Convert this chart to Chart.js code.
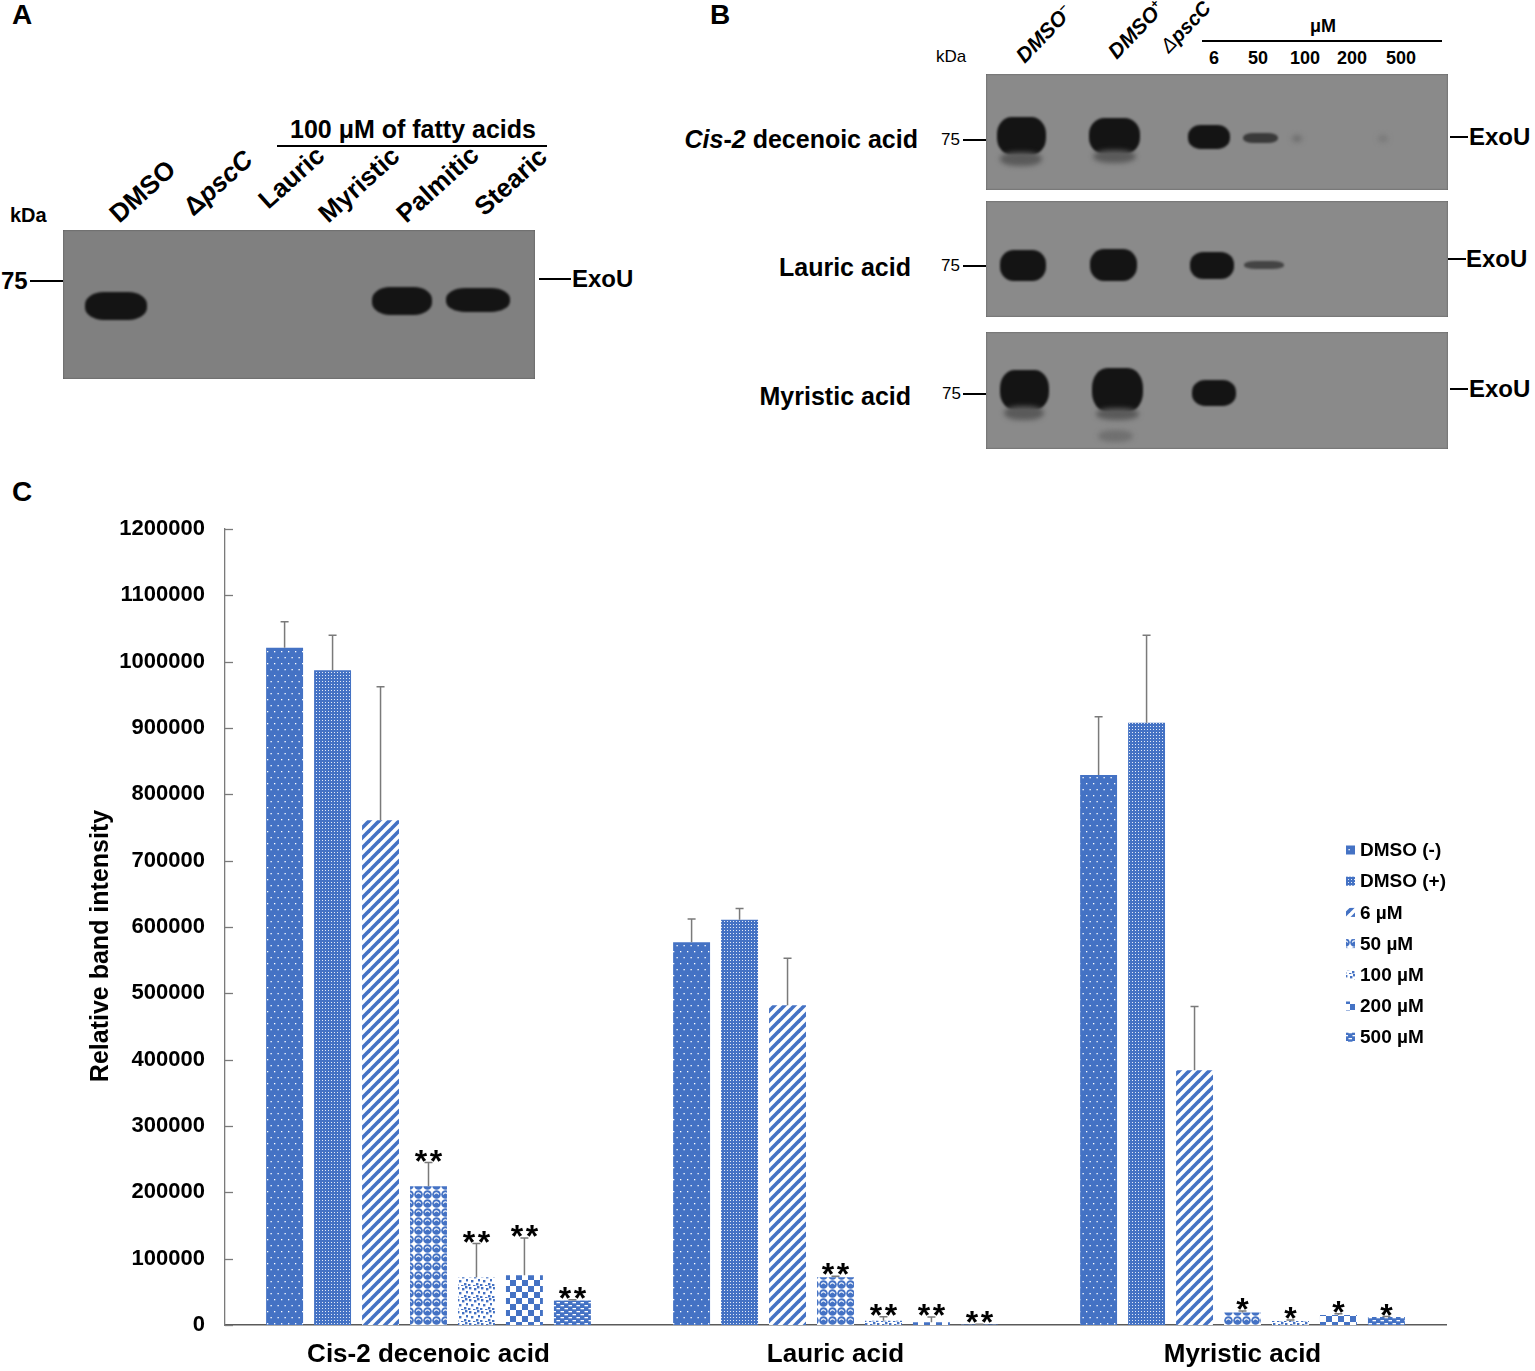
<!DOCTYPE html>
<html><head><meta charset="utf-8">
<script src="https://cdn.jsdelivr.net/npm/chart.js@4.4.0/dist/chart.umd.min.js"></script>
<style>
html,body{margin:0;padding:0;background:#fff;}
body{width:1535px;height:1371px;position:relative;overflow:hidden;font-family:Arial,"Liberation Sans",sans-serif;color:#000;}
.t{position:absolute;white-space:nowrap;line-height:1;}
.b{font-weight:bold;}
.i{font-style:italic;}
.blot{position:absolute;background:#808080;box-shadow:inset 0 0 2px rgba(0,0,0,.45);}
.blotB{background:#8a8a8a;}
.band{position:absolute;background:#141414;border-radius:30%/45%;filter:blur(1.3px);}
.smear{position:absolute;background:#5a5a5a;border-radius:40%/50%;filter:blur(2.5px);}
.rA{transform-origin:0 100%;transform:rotate(-42deg);}
.rB{transform-origin:0 100%;transform:rotate(-46deg);}
.ln{position:absolute;background:#000;}
#cwrap{position:absolute;left:0;top:470px;width:1535px;height:901px;}
</style></head>
<body>
<!-- Panel A -->
<div class="t b" style="left:12px;top:1px;font-size:28px">A</div>
<div class="t b" style="left:263px;top:117px;width:300px;text-align:center;font-size:25px">100 μM of fatty acids</div>
<div class="ln" style="left:277px;top:145px;width:270px;height:2px"></div>
<div class="t b rA" style="left:122px;top:201px;font-size:26px">DMSO</div>
<div class="t b rA" style="left:196px;top:194px;font-size:26px">Δ<span class="i">pscC</span></div>
<div class="t b rA" style="left:271px;top:187px;font-size:26px">Lauric</div>
<div class="t b rA" style="left:331px;top:201px;font-size:26px">Myristic</div>
<div class="t b rA" style="left:409px;top:201px;font-size:26px">Palmitic</div>
<div class="t b rA" style="left:487px;top:194px;font-size:26px">Stearic</div>
<div class="t b" style="left:10px;top:205px;font-size:20px">kDa</div>
<div class="t b" style="left:1px;top:269px;font-size:24px">75</div>
<div class="ln" style="left:30px;top:280px;width:33px;height:2px"></div>
<div class="blot" style="left:63px;top:230px;width:472px;height:149px">
  <div class="band" style="left:22px;top:62px;width:62px;height:28px"></div>
  <div class="band" style="left:309px;top:57px;width:60px;height:28px"></div>
  <div class="band" style="left:383px;top:58px;width:64px;height:24px"></div>
</div>
<div class="ln" style="left:539px;top:278px;width:32px;height:2px"></div>
<div class="t b" style="left:572px;top:267px;font-size:24px">ExoU</div>

<!-- Panel B -->
<div class="t b" style="left:710px;top:1px;font-size:28px">B</div>
<div class="t" style="left:936px;top:48px;font-size:17px">kDa</div>
<div class="t b i rB" style="left:1027px;top:45px;font-size:21px">DMSO<sup style="font-size:12px">−</sup></div>
<div class="t b i rB" style="left:1119px;top:41px;font-size:21px">DMSO<sup style="font-size:12px">+</sup></div>
<div class="t i rB" style="left:1171px;top:36px;font-size:20px">Δ<b>pscC</b></div>
<div class="t b" style="left:1310px;top:17px;font-size:18px">μM</div>
<div class="ln" style="left:1202px;top:40px;width:240px;height:2px"></div>
<div class="t b" style="left:1194px;top:49px;width:40px;text-align:center;font-size:18px">6</div>
<div class="t b" style="left:1238px;top:49px;width:40px;text-align:center;font-size:18px">50</div>
<div class="t b" style="left:1285px;top:49px;width:40px;text-align:center;font-size:18px">100</div>
<div class="t b" style="left:1332px;top:49px;width:40px;text-align:center;font-size:18px">200</div>
<div class="t b" style="left:1381px;top:49px;width:40px;text-align:center;font-size:18px">500</div>

<div class="t b" style="right:617px;top:127px;font-size:25px"><span class="i">Cis</span>-<span class="i">2</span> decenoic acid</div>
<div class="t b" style="right:624px;top:255px;font-size:25px">Lauric acid</div>
<div class="t b" style="right:624px;top:384px;font-size:25px">Myristic acid</div>

<div class="t" style="left:941px;top:131px;font-size:17px">75</div>
<div class="ln" style="left:963px;top:139px;width:23px;height:2px"></div>
<div class="t" style="left:941px;top:257px;font-size:17px">75</div>
<div class="ln" style="left:963px;top:265px;width:23px;height:2px"></div>
<div class="t" style="left:942px;top:385px;font-size:17px">75</div>
<div class="ln" style="left:963px;top:393px;width:23px;height:2px"></div>

<div class="blot blotB" style="left:986px;top:74px;width:462px;height:116px">
  <div class="band" style="left:11px;top:43px;width:49px;height:38px"></div>
  <div class="smear" style="left:14px;top:78px;width:42px;height:14px"></div>
  <div class="band" style="left:103px;top:44px;width:51px;height:36px"></div>
  <div class="smear" style="left:107px;top:76px;width:43px;height:13px"></div>
  <div class="band" style="left:202px;top:51px;width:42px;height:24px"></div>
  <div class="band" style="left:257px;top:59px;width:35px;height:10px;background:#3a3a3a"></div>
  <div class="smear" style="left:306px;top:61px;width:10px;height:7px;background:#707070"></div>
  <div class="smear" style="left:392px;top:61px;width:10px;height:7px;background:#7a7a7a"></div>
</div>
<div class="blot blotB" style="left:986px;top:201px;width:462px;height:116px">
  <div class="band" style="left:14px;top:49px;width:46px;height:31px"></div>
  <div class="band" style="left:104px;top:48px;width:47px;height:32px"></div>
  <div class="band" style="left:204px;top:51px;width:44px;height:27px"></div>
  <div class="band" style="left:258px;top:60px;width:40px;height:8px;background:#444"></div>
</div>
<div class="blot blotB" style="left:986px;top:332px;width:462px;height:117px">
  <div class="band" style="left:14px;top:38px;width:49px;height:40px"></div>
  <div class="smear" style="left:18px;top:74px;width:40px;height:14px"></div>
  <div class="band" style="left:106px;top:36px;width:51px;height:44px"></div>
  <div class="smear" style="left:110px;top:76px;width:43px;height:12px"></div>
  <div class="smear" style="left:112px;top:98px;width:35px;height:12px;background:#707070"></div>
  <div class="band" style="left:206px;top:48px;width:44px;height:26px"></div>
</div>

<div class="ln" style="left:1450px;top:136px;width:18px;height:2px"></div>
<div class="t b" style="left:1469px;top:125px;font-size:24px">ExoU</div>
<div class="ln" style="left:1448px;top:258px;width:18px;height:2px"></div>
<div class="t b" style="left:1466px;top:247px;font-size:24px">ExoU</div>
<div class="ln" style="left:1450px;top:388px;width:18px;height:2px"></div>
<div class="t b" style="left:1469px;top:377px;font-size:24px">ExoU</div>

<!-- Panel C -->
<div class="t b" style="left:12px;top:478px;font-size:28px">C</div>
<div id="cwrap"><canvas id="c"></canvas></div>

<script>
// ---- Data (panel C) ----
const categories = ['Cis-2 decenoic acid', 'Lauric acid', 'Myristic acid'];
const seriesLabels = ['DMSO (-)', 'DMSO (+)', '6 µM', '50 µM', '100 µM', '200 µM', '500 µM'];
const yTicks = [0, 100000, 200000, 300000, 400000, 500000, 600000, 700000, 800000, 900000, 1000000, 1100000, 1200000];

const dmsoNeg = [1021000, 577000, 829000];
const dmsoPos = [987000, 611000, 908000];
const um6     = [761000, 482000, 384000];
const um50    = [209000, 72000, 19000];
const um100   = [72000, 6500, 6000];
const um200   = [75000, 4000, 15000];
const um500   = [37000, 800, 12000];

const dmsoNegErr = [39000, 35000, 88000];
const dmsoPosErr = [53000, 17000, 132000];
const um6Err     = [201000, 71000, 96000];
const um50Err    = [36000, 1500, 2000];
const um100Err   = [51000, 6000, 1500];
const um200Err   = [56000, 8000, 2000];
const um500Err   = [1000, 500, 1000];

const sigNeg = ['', '', ''];
const sigPos = ['', '', ''];
const sig6   = ['', '', ''];
const sig50  = ['**', '**', '*'];
const sig100 = ['**', '**', '*'];
const sig200 = ['**', '**', '*'];
const sig500 = ['**', '**', '*'];

const seriesValues = [dmsoNeg, dmsoPos, um6, um50, um100, um200, um500];
const seriesErrors = [dmsoNegErr, dmsoPosErr, um6Err, um50Err, um100Err, um200Err, um500Err];
const seriesSig = [sigNeg, sigPos, sig6, sig50, sig100, sig200, sig500];

// ---- Patterns ----
const BLUE = '#4472C4';
function pat(kind) {
  const c = document.createElement('canvas');
  const x = c.getContext('2d');
  if (kind === 'dots') {
    c.width = 7; c.height = 12;
    x.fillStyle = BLUE; x.fillRect(0, 0, 7, 12);
    x.fillStyle = '#fff';
    x.fillRect(1, 1, 1.3, 1.3); x.fillRect(4.5, 7, 1.3, 1.3);
  } else if (kind === 'grid') {
    c.width = 3; c.height = 3;
    x.fillStyle = BLUE; x.fillRect(0, 0, 3, 3);
    x.fillStyle = 'rgba(255,255,255,0.85)'; x.fillRect(1, 1, 1, 1);
  } else if (kind === 'stripes') {
    c.width = 10; c.height = 10;
    x.fillStyle = '#fff'; x.fillRect(0, 0, 10, 10);
    x.strokeStyle = BLUE; x.lineWidth = 3.6;
    [[-5, 5, 5, -5], [0, 10, 10, 0], [5, 15, 15, 5]].forEach(p => {
      x.beginPath(); x.moveTo(p[0], p[1]); x.lineTo(p[2], p[3]); x.stroke();
    });
  } else if (kind === 'spheres') {
    c.width = 9; c.height = 9;
    x.fillStyle = '#fff'; x.fillRect(0, 0, 9, 9);
    x.fillStyle = BLUE; x.beginPath(); x.arc(4.5, 4.5, 4.3, 0, Math.PI * 2); x.fill();
    x.strokeStyle = '#fff'; x.lineWidth = 1.1;
    x.beginPath(); x.arc(4.5, 5.2, 2.3, Math.PI * 1.1, Math.PI * 1.9); x.stroke();
  } else if (kind === 'confetti') {
    c.width = 12; c.height = 12;
    x.fillStyle = '#fff'; x.fillRect(0, 0, 12, 12);
    x.fillStyle = BLUE;
    [[1, 1], [6, 2], [10, 5], [3, 6], [8, 9], [0, 10], [5, 11], [9, 0]].forEach(p => x.fillRect(p[0], p[1], 2.4, 2.4));
  } else if (kind === 'checker') {
    c.width = 12; c.height = 12;
    x.fillStyle = '#fff'; x.fillRect(0, 0, 12, 12);
    x.fillStyle = BLUE; x.fillRect(0, 0, 6, 6); x.fillRect(6, 6, 6, 6);
  } else if (kind === 'wave') {
    c.width = 8; c.height = 6;
    x.fillStyle = BLUE; x.fillRect(0, 0, 8, 6);
    x.fillStyle = '#fff';
    x.fillRect(0.5, 1, 3.5, 1.3); x.fillRect(4.5, 4, 3.5, 1.3);
  }
  return document.getElementById('c').getContext('2d').createPattern(c, 'repeat');
}
const patternKinds = ['dots', 'grid', 'stripes', 'spheres', 'confetti', 'checker', 'wave'];

// ---- Plugins ----
const FONT = 'Arial, "Liberation Sans", sans-serif';
const errPlugin = {
  id: 'errs',
  afterDatasetsDraw(chart) {
    const ctx = chart.ctx, ys = chart.scales.y;
    ctx.save();
    chart.data.datasets.forEach((ds, i) => {
      const meta = chart.getDatasetMeta(i);
      meta.data.forEach((bar, j) => {
        const v = ds.data[j], e = seriesErrors[i][j];
        const yb = ys.getPixelForValue(v), yt = ys.getPixelForValue(v + e);
        ctx.strokeStyle = '#7a7a7a'; ctx.lineWidth = 1.5;
        ctx.beginPath();
        ctx.moveTo(bar.x, yb); ctx.lineTo(bar.x, yt);
        ctx.moveTo(bar.x - 4, yt); ctx.lineTo(bar.x + 4, yt);
        ctx.stroke();
        const s = seriesSig[i][j];
        if (s) {
          ctx.fillStyle = '#000';
          ctx.font = 'bold 32px ' + FONT;
          ctx.textAlign = 'center'; ctx.textBaseline = 'alphabetic';
          const cy = yt - 9, base = cy + 0.57 * 32;
          if (s.length === 2) {
            ctx.fillText('*', bar.x - 7.5, base); ctx.fillText('*', bar.x + 7.5, base);
          } else {
            ctx.fillText('*', bar.x, base);
          }
        }
      });
    });
    ctx.restore();
  },
  afterDraw(chart) {
    const ctx = chart.ctx, ys = chart.scales.y, area = chart.chartArea;
    ctx.save();
    // inner tick marks on y axis
    ctx.strokeStyle = '#7a7a7a'; ctx.lineWidth = 1.3;
    yTicks.forEach(t => {
      const y = Math.round(ys.getPixelForValue(t)) + 0.5;
      ctx.beginPath(); ctx.moveTo(area.left, y); ctx.lineTo(area.left + 8, y); ctx.stroke();
    });
    // y title
    ctx.fillStyle = '#000';
    ctx.font = 'bold 25px ' + FONT;
    ctx.translate(101, 476); ctx.rotate(-Math.PI / 2);
    ctx.textAlign = 'center'; ctx.textBaseline = 'middle';
    ctx.fillText('Relative band intensity', 0, 0);
    ctx.restore();
    // legend
    ctx.save();
    ctx.font = 'bold 19px ' + FONT;
    ctx.textAlign = 'left'; ctx.textBaseline = 'middle';
    chart.data.datasets.forEach((ds, i) => {
      const y = 380 + i * 31.2;
      ctx.fillStyle = ds.backgroundColor;
      ctx.fillRect(1346, y - 4.5, 9, 9);
      ctx.fillStyle = '#000';
      ctx.fillText(ds.label, 1360, y + 1);
    });
    ctx.restore();
  }
};

const datasets = seriesLabels.map((lab, i) => ({
  label: lab,
  data: seriesValues[i],
  backgroundColor: pat(patternKinds[i]),
  borderWidth: 0,
  categoryPercentage: 0.825,
  barPercentage: 0.77
}));

new Chart(document.getElementById('c'), {
  type: 'bar',
  data: { labels: categories, datasets },
  options: {
    responsive: true,
    maintainAspectRatio: false,
    animation: false,
    layout: { padding: { top: 59, right: 89, bottom: 0, left: 0 } },
    plugins: { legend: { display: false }, tooltip: { enabled: false } },
    scales: {
      x: {
        grid: { display: false },
        border: { display: true, color: '#5a5a5a', width: 1.5 },
        ticks: { color: '#000', font: { family: FONT, size: 26, weight: 'bold' }, padding: 6, maxRotation: 0 },
        afterFit(s) { s.height = 46; }
      },
      y: {
        min: 0, max: 1200000,
        grid: { display: false },
        border: { display: true, color: '#7a7a7a', width: 1.3 },
        afterBuildTicks(s) { s.ticks = yTicks.map(v => ({ value: v })); },
        ticks: { color: '#000', font: { family: FONT, size: 22, weight: 'bold' }, padding: 12,
                 callback: v => String(v) },
        afterFit(s) { s.width = 225; }
      }
    }
  },
  plugins: [errPlugin]
});
</script>
</body></html>
